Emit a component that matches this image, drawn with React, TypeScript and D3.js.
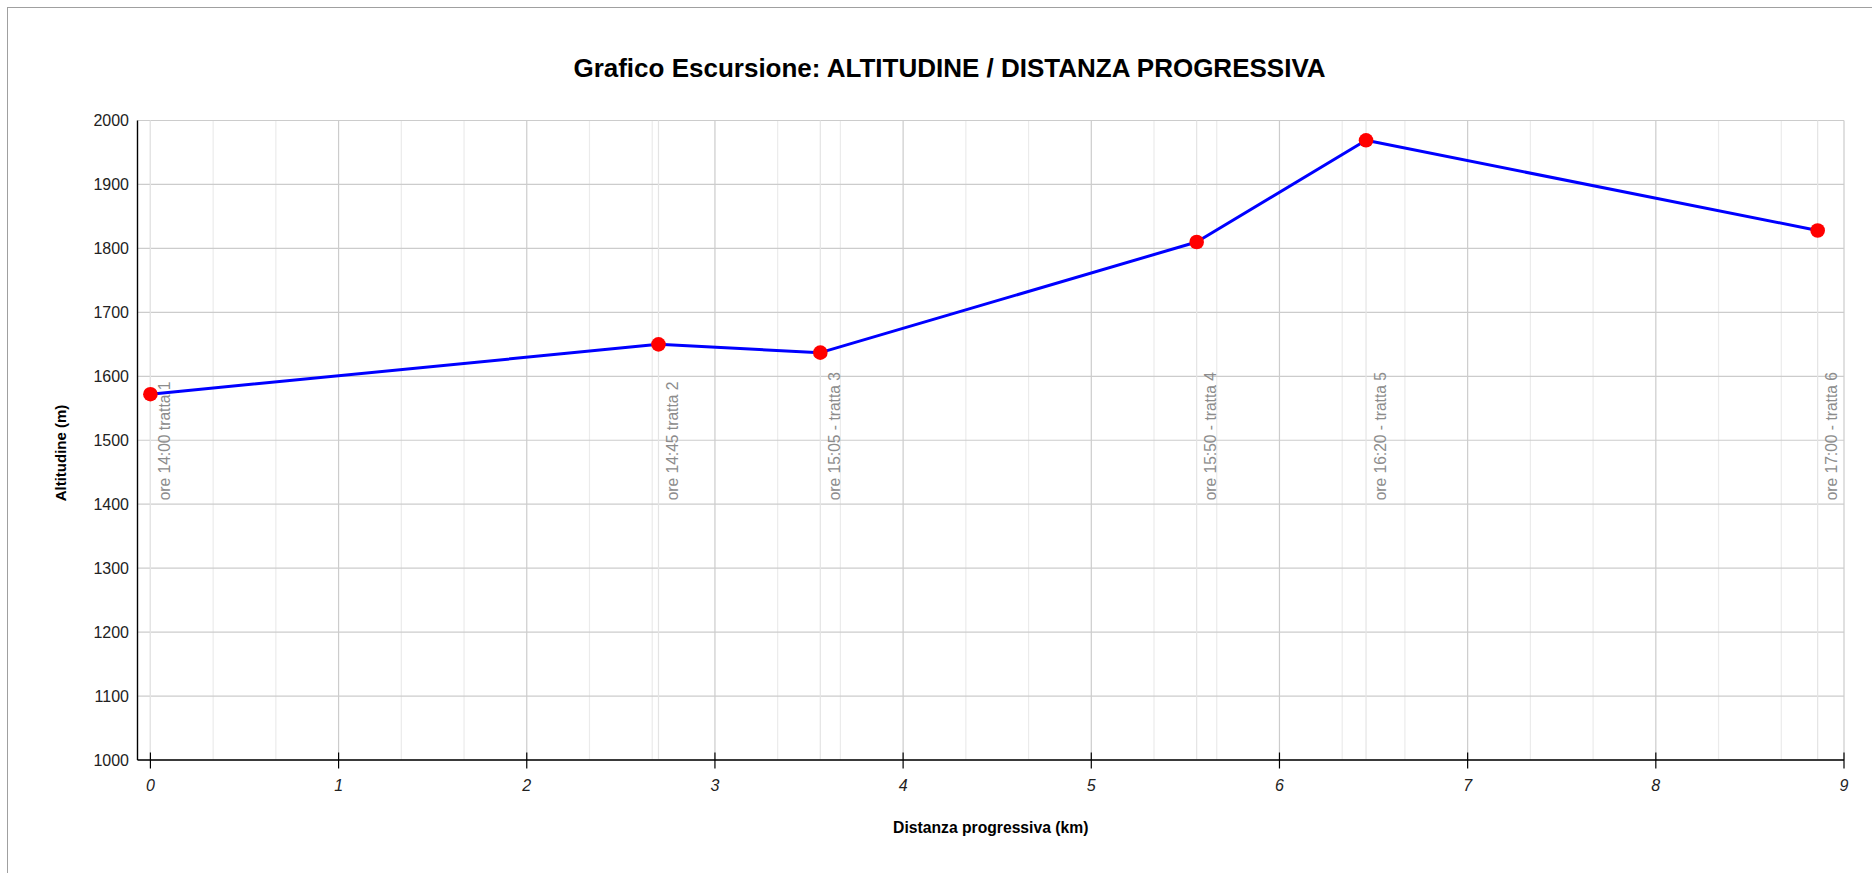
import React from "react";
import * as d3 from "d3";

const distances = [0, 2.7, 3.56, 5.56, 6.46, 8.86];
const altitudes = [1572, 1650, 1637, 1810, 1969, 1828];
const annotations = [
  "ore 14:00 tratta 1",
  "ore 14:45 tratta 2",
  "ore 15:05 - tratta 3",
  "ore 15:50 - tratta 4",
  "ore 16:20 - tratta 5",
  "ore 17:00 - tratta 6",
];
const xTicks = [0, 1, 2, 3, 4, 5, 6, 7, 8, 9];
const yTicks = [1000, 1100, 1200, 1300, 1400, 1500, 1600, 1700, 1800, 1900, 2000];
const title = "Grafico Escursione: ALTITUDINE / DISTANZA PROGRESSIVA";
const xTitle = "Distanza progressiva (km)";
const yTitle = "Altitudine (m)";

const W = 1872;
const H = 873;
const FONT = "'Liberation Sans', Arial, sans-serif";

export default function App() {
  const x = d3.scaleLinear().domain([-0.0686, 9]).range([137.5, 1844]);
  const y = d3.scaleLinear().domain([1000, 2000]).range([760, 120.5]);
  const [x0, x1] = x.range();
  const [yb, yt] = y.range();

  const minor: number[] = [];
  for (let k = 1; k < 27; k++) if (k % 3 !== 0) minor.push(k / 3);

  const pts = distances.map((d, i) => [d, altitudes[i]] as [number, number]);
  const line = d3
    .line<[number, number]>()
    .x((d) => x(d[0]))
    .y((d) => y(d[1]));

  const labelY = y(1406);

  return (
    <svg
      width={W}
      height={H}
      style={{ position: "absolute", left: 0, top: 0, display: "block", background: "#fff" }}
      fontFamily={FONT}
    >
      <rect x={7.5} y={7.5} width={1900} height={900} fill="#fff" stroke="#a0a0a0" strokeWidth={1} />
      <text x={949.5} y={76.5} textAnchor="middle" fontSize={26} fontWeight="bold" fill="#000">
        {title}
      </text>

      {/* minor vertical gridlines */}
      {minor.map((m) => (
        <line key={"mi" + m} x1={x(m)} x2={x(m)} y1={yt} y2={yb} stroke="#ebebeb" strokeWidth={1.2} />
      ))}
      {/* major vertical gridlines */}
      {xTicks.map((t) => (
        <line key={"ma" + t} x1={x(t)} x2={x(t)} y1={yt} y2={yb} stroke="#cccccc" strokeWidth={1.2} />
      ))}
      {/* horizontal gridlines */}
      {yTicks.map((t) => (
        <line key={"h" + t} x1={x0} x2={x1} y1={y(t)} y2={y(t)} stroke="#cccccc" strokeWidth={1.2} />
      ))}
      {/* annotation stems */}
      {distances.map((d, i) => (
        <line key={"s" + i} x1={x(d)} x2={x(d)} y1={yt} y2={yb} stroke="#e4e4e4" strokeWidth={1.2} />
      ))}
      {/* annotation texts */}
      {distances.map((d, i) => (
        <text
          key={"a" + i}
          transform={`translate(${x(d) + 19.5},${labelY}) rotate(-90)`}
          fontSize={15.6}
          fill="#8c8c8c"
        >
          {annotations[i]}
        </text>
      ))}

      {/* axes */}
      <line x1={x0} x2={x0} y1={yt} y2={yb} stroke="#000" strokeWidth={1.4} />
      <line x1={x0} x2={x1} y1={yb} y2={yb} stroke="#000" strokeWidth={1.4} />
      {xTicks.map((t) => (
        <g key={"xt" + t}>
          <line x1={x(t)} x2={x(t)} y1={yb - 7.5} y2={yb + 8.5} stroke="#000" strokeWidth={1.2} />
          <text x={x(t)} y={yb + 31} textAnchor="middle" fontSize={16} fontStyle="italic" fill="#222">
            {t}
          </text>
        </g>
      ))}
      {yTicks.map((t) => (
        <text key={"yt" + t} x={129} y={y(t)} dy="0.36em" textAnchor="end" fontSize={16} fill="#222">
          {t}
        </text>
      ))}

      <text x={(x0 + x1) / 2} y={832.5} textAnchor="middle" fontSize={15.7} fontWeight="bold" fill="#000">
        {xTitle}
      </text>
      <text
        transform={`translate(65.7,${453}) rotate(-90)`}
        textAnchor="middle"
        fontSize={15}
        fontWeight="bold"
        fill="#000"
      >
        {yTitle}
      </text>

      {/* series */}
      <path d={line(pts) || ""} fill="none" stroke="#0000ff" strokeWidth={3} strokeLinejoin="round" />
      {pts.map((p, i) => (
        <circle key={"p" + i} cx={x(p[0])} cy={y(p[1])} r={7.3} fill="#ff0000" />
      ))}
    </svg>
  );
}
